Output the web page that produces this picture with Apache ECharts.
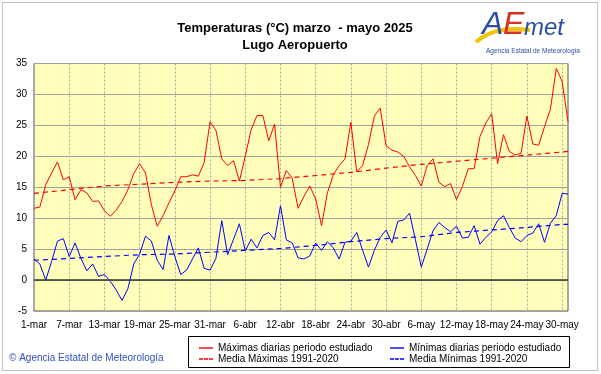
<!DOCTYPE html>
<html><head><meta charset="utf-8">
<script src="https://cdn.jsdelivr.net/npm/echarts@6/dist/echarts.min.js"></script>
<style>html,body{margin:0;padding:0;background:#fff}#c{width:601px;height:374px}</style>
</head><body><div id="c"></div>
<script>
// Month definitions for category labels
const months = [['mar', 31], ['abr', 30], ['may', 31]];
const days = [];
months.forEach(([m, n]) => { for (let d = 1; d <= n; d++) days.push(d + '-' + m); });

// Daily maxima (°C), 1 Mar – 31 May 2025
const maxTemps = [
  11.6, 11.8, 15.4, 17.3, 19.1, 16.2, 16.7, 13.0, 14.6, 14.1,
  12.7, 12.8, 11.2, 10.3, 11.3, 12.7, 14.6, 17.2, 18.8, 17.3,
  12.2, 8.7, 10.4, 12.5, 14.4, 16.7, 16.7, 17.0, 16.8, 19.0,
  25.6, 24.2, 19.6, 18.5, 19.3, 16.0, 20.0, 24.3, 26.6, 26.6,
  22.5, 25.2, 15.0, 17.7, 16.5, 11.6, 13.5, 15.2, 13.1, 8.8,
  14.1, 17.0, 18.5, 19.6, 25.5, 17.5, 18.5, 21.9, 26.5, 27.8,
  21.7, 21.0, 20.7, 20.0, 18.3, 16.9, 15.2, 18.5, 19.6, 15.8,
  15.1, 15.6, 13.0, 15.1, 18.0, 18.0, 23.2, 25.4, 26.9, 18.8,
  23.5, 20.8, 20.2, 20.5, 26.5, 22.0, 21.8, 24.8, 27.6, 34.2,
  32.1, 25.6
];
// Daily minima (°C)
const minTemps = [
  3.4, 2.6, 0.0, 3.0, 6.3, 6.7, 3.8, 6.0, 3.5, 1.5,
  2.6, 0.6, 0.9, -0.2, -1.6, -3.3, -1.4, 2.6, 4.2, 7.1,
  6.3, 3.2, 1.7, 7.2, 3.8, 0.9, 1.6, 3.4, 5.2, 1.9,
  1.6, 3.5, 9.6, 4.1, 6.6, 9.1, 4.7, 6.6, 5.2, 7.2,
  7.7, 6.5, 12.0, 6.5, 6.0, 3.6, 3.4, 3.9, 6.0, 4.8,
  6.2, 5.2, 3.4, 6.1, 6.3, 7.7, 4.8, 2.1, 4.8, 6.9,
  8.1, 6.0, 9.5, 9.7, 10.8, 6.5, 2.1, 5.0, 8.0, 9.3,
  8.5, 7.8, 8.7, 6.8, 6.9, 8.8, 5.8, 6.9, 7.8, 9.6,
  10.4, 8.5, 6.8, 6.2, 7.2, 7.6, 9.1, 6.1, 9.2, 10.4,
  14.0, 13.9
];
// Climatological means 1991-2020, read at day indices
const meanDays = [0, 6, 12, 18, 24, 30, 36, 42, 48, 54, 60, 66, 72, 78, 84, 90, 91];
const meanMax = [14.0, 14.6, 15.2, 15.5, 15.8, 16.0, 16.1, 16.4, 16.9, 17.4, 18.1, 18.7, 19.2, 19.7, 20.2, 20.7, 20.8];
const meanMin = [3.2, 3.5, 3.8, 4.1, 4.2, 4.5, 4.8, 5.1, 5.6, 6.2, 6.7, 7.0, 7.7, 8.1, 8.5, 9.0, 9.0];

const FONT = 'Liberation Sans, Arial, sans-serif';
const chart = echarts.init(document.getElementById('c'));
const pair = (xs, ys) => xs.map((x, i) => [x, ys[i]]);
const SOLID = 'path://M0 0h14v1.4h-14z';
const DASHED = 'path://M0 0h4v1.4h-4zM5 0h4v1.4h-4zM10 0h4v1.4h-4z';

chart.setOption({
  animation: false,
  backgroundColor: '#ffffff',
  textStyle: { fontFamily: FONT },
  title: {
    text: 'Temperaturas (°C) marzo  - mayo 2025\nLugo Aeropuerto',
    left: 290, top: 15, textAlign: 'center',
    textStyle: { fontSize: 13, fontWeight: 'bold', color: '#000', lineHeight: 17, fontFamily: FONT }
  },
  grid: { left: 34, right: 33, top: 63.5, bottom: 63, show: true,
          backgroundColor: '#ffffbb', borderColor: '#555', borderWidth: 1 },
  xAxis: {
    type: 'category', data: days, boundaryGap: false,
    axisLine: { show: false }, axisTick: { show: false },
    axisLabel: { interval: 5, fontSize: 10, color: '#000', margin: 9, fontFamily: FONT },
    splitLine: { show: true, interval: 5, lineStyle: { color: '#a8a8a8', type: [2, 2], width: 1 } }
  },
  yAxis: {
    type: 'value', min: -5, max: 35, interval: 5,
    axisLine: { show: false }, axisTick: { show: false },
    axisLabel: { fontSize: 10, color: '#000', margin: 7, fontFamily: FONT },
    splitLine: { lineStyle: { color: '#a0a0a0', width: 1 } }
  },
  legend: [
    { left: 194, top: 338, orient: 'vertical', itemGap: 1, itemWidth: 14, itemHeight: 10,
      textStyle: { fontSize: 10, color: '#000', fontFamily: FONT },
      data: [{ name: 'Máximas diarias periodo estudiado', icon: SOLID },
             { name: 'Media Máximas 1991-2020', icon: DASHED }] },
    { left: 385, top: 338, orient: 'vertical', itemGap: 1, itemWidth: 14, itemHeight: 10,
      textStyle: { fontSize: 10, color: '#000', fontFamily: FONT },
      data: [{ name: 'Mínimas diarias periodo estudiado', icon: SOLID },
             { name: 'Media Mínimas 1991-2020', icon: DASHED }] }
  ],
  graphic: [
    { type: 'rect', shape: { x: 2.5, y: 2.5, width: 595, height: 368 }, silent: true,
      style: { fill: null, stroke: '#808080', lineWidth: 1, lineDash: [1, 1] } },
    { type: 'rect', shape: { x: 188.5, y: 336.5, width: 381, height: 31 }, silent: true,
      style: { fill: null, stroke: '#000', lineWidth: 1 } },
    { type: 'text', left: 9, top: 353, silent: true,
      style: { text: '© Agencia Estatal de Meteorología', fill: '#3050c0', fontSize: 10, fontFamily: FONT } },
    { type: 'bezierCurve', silent: true,
      shape: { x1: 476, y1: 42, x2: 530, y2: 30, cpx1: 492, cpy1: 28, cpx2: 512, cpy2: 28 },
      style: { stroke: '#f2c200', lineWidth: 4, fill: null } },
    { type: 'text', left: 482, top: 9, silent: true,
      style: { text: 'A', fill: '#2a4ea8', fontSize: 32, fontStyle: 'italic', fontFamily: FONT } },
    { type: 'text', left: 503, top: 9, silent: true,
      style: { text: 'E', fill: '#d83020', fontSize: 32, fontStyle: 'italic', fontFamily: FONT } },
    { type: 'text', left: 524, top: 16, silent: true,
      style: { text: 'met', fill: '#2a4ea8', fontSize: 24, fontStyle: 'italic', fontFamily: FONT } },
    { type: 'text', left: 486, top: 48, silent: true,
      style: { text: 'Agencia Estatal de Meteorología', fill: '#2a4ea8', fontSize: 6.5, fontFamily: FONT } }
  ],
  series: [
    { name: 'Máximas diarias periodo estudiado', type: 'line', data: maxTemps, symbol: 'none',
      lineStyle: { color: '#ff0000', width: 1 }, itemStyle: { color: '#ff0000' },
      markLine: { silent: true, symbol: 'none', label: { show: false },
        lineStyle: { color: '#2a3a2a', width: 1.5, type: 'solid' }, data: [{ yAxis: 0 }] } },
    { name: 'Mínimas diarias periodo estudiado', type: 'line', data: minTemps, symbol: 'none',
      lineStyle: { color: '#0000ff', width: 1 }, itemStyle: { color: '#0000ff' } },
    { name: 'Media Máximas 1991-2020', type: 'line', data: pair(meanDays, meanMax), symbol: 'none',
      lineStyle: { color: '#ff0000', width: 1.2, type: [5, 4] }, itemStyle: { color: '#ff0000' } },
    { name: 'Media Mínimas 1991-2020', type: 'line', data: pair(meanDays, meanMin), symbol: 'none',
      lineStyle: { color: '#0000ff', width: 1.2, type: [5, 4] }, itemStyle: { color: '#0000ff' } }
  ]
});
</script></body></html>
